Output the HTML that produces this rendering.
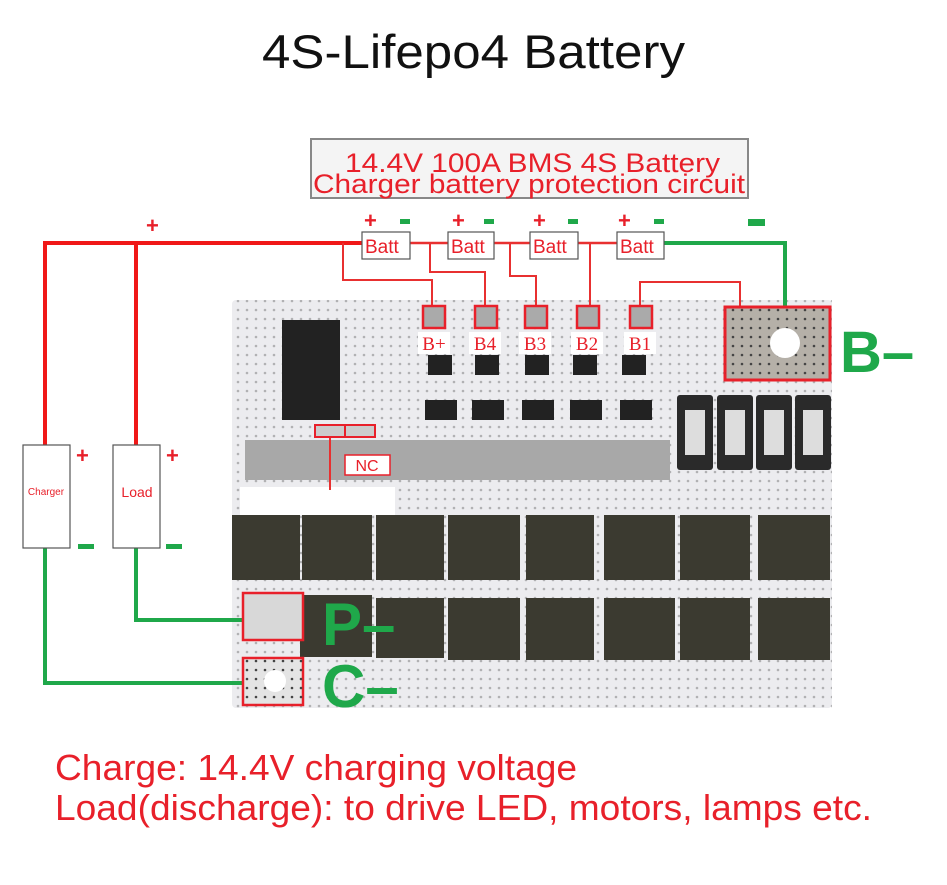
<!DOCTYPE html>
<html><head><style>
body{margin:0;background:#fff;}
svg{display:block;font-family:"Liberation Sans",sans-serif;}
</style></head><body>
<svg width="947" height="885" viewBox="0 0 947 885">
<defs>
<pattern id="dots" width="9" height="9" patternUnits="userSpaceOnUse"><circle cx="4" cy="4" r="1.3" fill="#444"/></pattern>
</defs>
<text x="262" y="68" font-size="47" textLength="423" lengthAdjust="spacingAndGlyphs" fill="#111">4S-Lifepo4 Battery</text>
<rect x="311" y="139" width="437" height="59" fill="#f4f4f4" stroke="#888" stroke-width="2"/>
<text x="345" y="172" font-size="27" textLength="375" lengthAdjust="spacingAndGlyphs" fill="#e8202a">14.4V 100A BMS 4S Battery</text>
<text x="313" y="193" font-size="27" textLength="432" lengthAdjust="spacingAndGlyphs" fill="#e8202a">Charger battery protection circuit</text>

<rect x="232" y="300" width="600" height="408" fill="#ececef" rx="4"/>
<rect x="232" y="300" width="600" height="408" fill="url(#dots)" opacity="0.35"/>
<rect x="282" y="320" width="58" height="100" fill="#222"/>
<rect x="245" y="440" width="425" height="40" fill="#a8a8a8"/>
<rect x="240" y="487" width="155" height="28" fill="#fff"/>
<g fill="#2a2a2a">
<rect x="677" y="395" width="36" height="75" rx="3"/><rect x="717" y="395" width="36" height="75" rx="3"/><rect x="756" y="395" width="36" height="75" rx="3"/><rect x="795" y="395" width="36" height="75" rx="3"/>
</g>
<g fill="#ddd"><rect x="685" y="410" width="20" height="45"/><rect x="725" y="410" width="20" height="45"/><rect x="764" y="410" width="20" height="45"/><rect x="803" y="410" width="20" height="45"/></g>
<g fill="#222"><rect x="425" y="400" width="32" height="20"/><rect x="472" y="400" width="32" height="20"/><rect x="522" y="400" width="32" height="20"/><rect x="570" y="400" width="32" height="20"/><rect x="620" y="400" width="32" height="20"/>
<rect x="428" y="355" width="24" height="20"/><rect x="475" y="355" width="24" height="20"/><rect x="525" y="355" width="24" height="20"/><rect x="573" y="355" width="24" height="20"/><rect x="622" y="355" width="24" height="20"/></g>
<g fill="#3b3a30">
<rect x="232" y="515" width="68" height="65"/><rect x="302" y="515" width="70" height="65"/><rect x="376" y="515" width="68" height="65"/><rect x="448" y="515" width="72" height="65"/><rect x="526" y="515" width="68" height="65"/><rect x="604" y="515" width="71" height="65"/><rect x="680" y="515" width="70" height="65"/><rect x="758" y="515" width="72" height="65"/>
<rect x="300" y="595" width="72" height="62"/><rect x="376" y="598" width="68" height="60"/><rect x="448" y="598" width="72" height="62"/><rect x="526" y="598" width="68" height="62"/><rect x="604" y="598" width="71" height="62"/><rect x="680" y="598" width="70" height="62"/><rect x="758" y="598" width="72" height="62"/>
</g>

<g fill="none" stroke-linejoin="miter">
<path d="M45 445V243H362M136 243V445" stroke="#f01818" stroke-width="4"/>
<path d="M410 243H448M494 243H530M578 243H617" stroke="#e83030" stroke-width="2.5"/>
<path d="M343 243V280H432V308M430 243V272H485V308M510 243V276H536V308M590 243V308M640 308V282H740V308M330 437V490" stroke="#e83030" stroke-width="2"/>
<path d="M664 243H785V310" stroke="#1fa84a" stroke-width="4"/>
<path d="M136 548V620H245M45 548V683H245" stroke="#1fa84a" stroke-width="4"/>
</g>
<g fill="#fff" stroke="#555" stroke-width="1.2">
<rect x="362" y="232" width="48" height="27"/><rect x="448" y="232" width="46" height="27"/><rect x="530" y="232" width="48" height="27"/><rect x="617" y="232" width="47" height="27"/>
<rect x="23" y="445" width="47" height="103"/><rect x="113" y="445" width="47" height="103"/>
</g>
<g font-size="19" fill="#e8202a"><text x="365" y="253">Batt</text><text x="451" y="253">Batt</text><text x="533" y="253">Batt</text><text x="620" y="253">Batt</text></g>
<text x="46" y="495" font-size="10" fill="#e8202a" text-anchor="middle">Charger</text>
<text x="137" y="497" font-size="14" fill="#e8202a" text-anchor="middle">Load</text>
<g font-size="22" font-weight="bold" fill="#e8202a"><text x="146" y="233">+</text><text x="364" y="228">+</text><text x="452" y="228">+</text><text x="533" y="228">+</text><text x="618" y="228">+</text><text x="76" y="463">+</text><text x="166" y="463">+</text></g>
<g fill="#1fa84a"><rect x="400" y="219" width="10" height="5"/><rect x="484" y="219" width="10" height="5"/><rect x="568" y="219" width="10" height="5"/><rect x="654" y="219" width="10" height="5"/><rect x="748" y="219" width="17" height="7"/><rect x="78" y="544" width="16" height="5"/><rect x="166" y="544" width="16" height="5"/></g>

<g fill="#aaa" stroke="#e8202a" stroke-width="2.5">
<rect x="423" y="306" width="22" height="22"/><rect x="475" y="306" width="22" height="22"/><rect x="525" y="306" width="22" height="22"/><rect x="577" y="306" width="22" height="22"/><rect x="630" y="306" width="22" height="22"/>
</g>
<g fill="#fff"><rect x="418" y="332" width="32" height="22"/><rect x="469" y="332" width="32" height="22"/><rect x="519" y="332" width="32" height="22"/><rect x="571" y="332" width="32" height="22"/><rect x="624" y="332" width="32" height="22"/></g>
<g font-family="Liberation Serif,serif" font-size="19" fill="#e8202a" text-anchor="middle"><text x="434" y="350">B+</text><text x="485" y="350">B4</text><text x="535" y="350">B3</text><text x="587" y="350">B2</text><text x="640" y="350">B1</text></g>
<rect x="725" y="307" width="105" height="73" fill="#b5b0a8" stroke="#e8202a" stroke-width="3"/>
<rect x="725" y="307" width="105" height="73" fill="url(#dots)"/>
<circle cx="785" cy="343" r="15" fill="#fff"/>
<text x="840" y="372" font-size="58" font-weight="bold" fill="#1fa84a">B–</text>
<g fill="#ccc" stroke="#e8202a" stroke-width="2"><rect x="315" y="425" width="30" height="12"/><rect x="345" y="425" width="30" height="12"/></g>
<rect x="345" y="455" width="45" height="20" fill="#fff" stroke="#e8202a" stroke-width="1.5"/>
<text x="367" y="471" font-size="16" fill="#e8202a" text-anchor="middle">NC</text>
<rect x="243" y="593" width="60" height="47" fill="#d8d8d8" stroke="#e8202a" stroke-width="2.5"/>
<rect x="243" y="658" width="60" height="47" fill="#e4e4e4" stroke="#e8202a" stroke-width="2.5"/>
<rect x="243" y="658" width="60" height="47" fill="url(#dots)"/>
<circle cx="275" cy="681" r="11" fill="#fff"/>
<text x="322" y="645" font-size="60" font-weight="bold" fill="#1fa84a">P–</text>
<text x="322" y="707" font-size="60" font-weight="bold" fill="#1fa84a">C–</text>

<text x="55" y="780" font-size="36" textLength="522" lengthAdjust="spacingAndGlyphs" fill="#e8202a">Charge: 14.4V charging voltage</text>
<text x="55" y="820" font-size="36" textLength="817" lengthAdjust="spacingAndGlyphs" fill="#e8202a">Load(discharge): to drive LED, motors, lamps etc.</text>
</svg>
</body></html>
